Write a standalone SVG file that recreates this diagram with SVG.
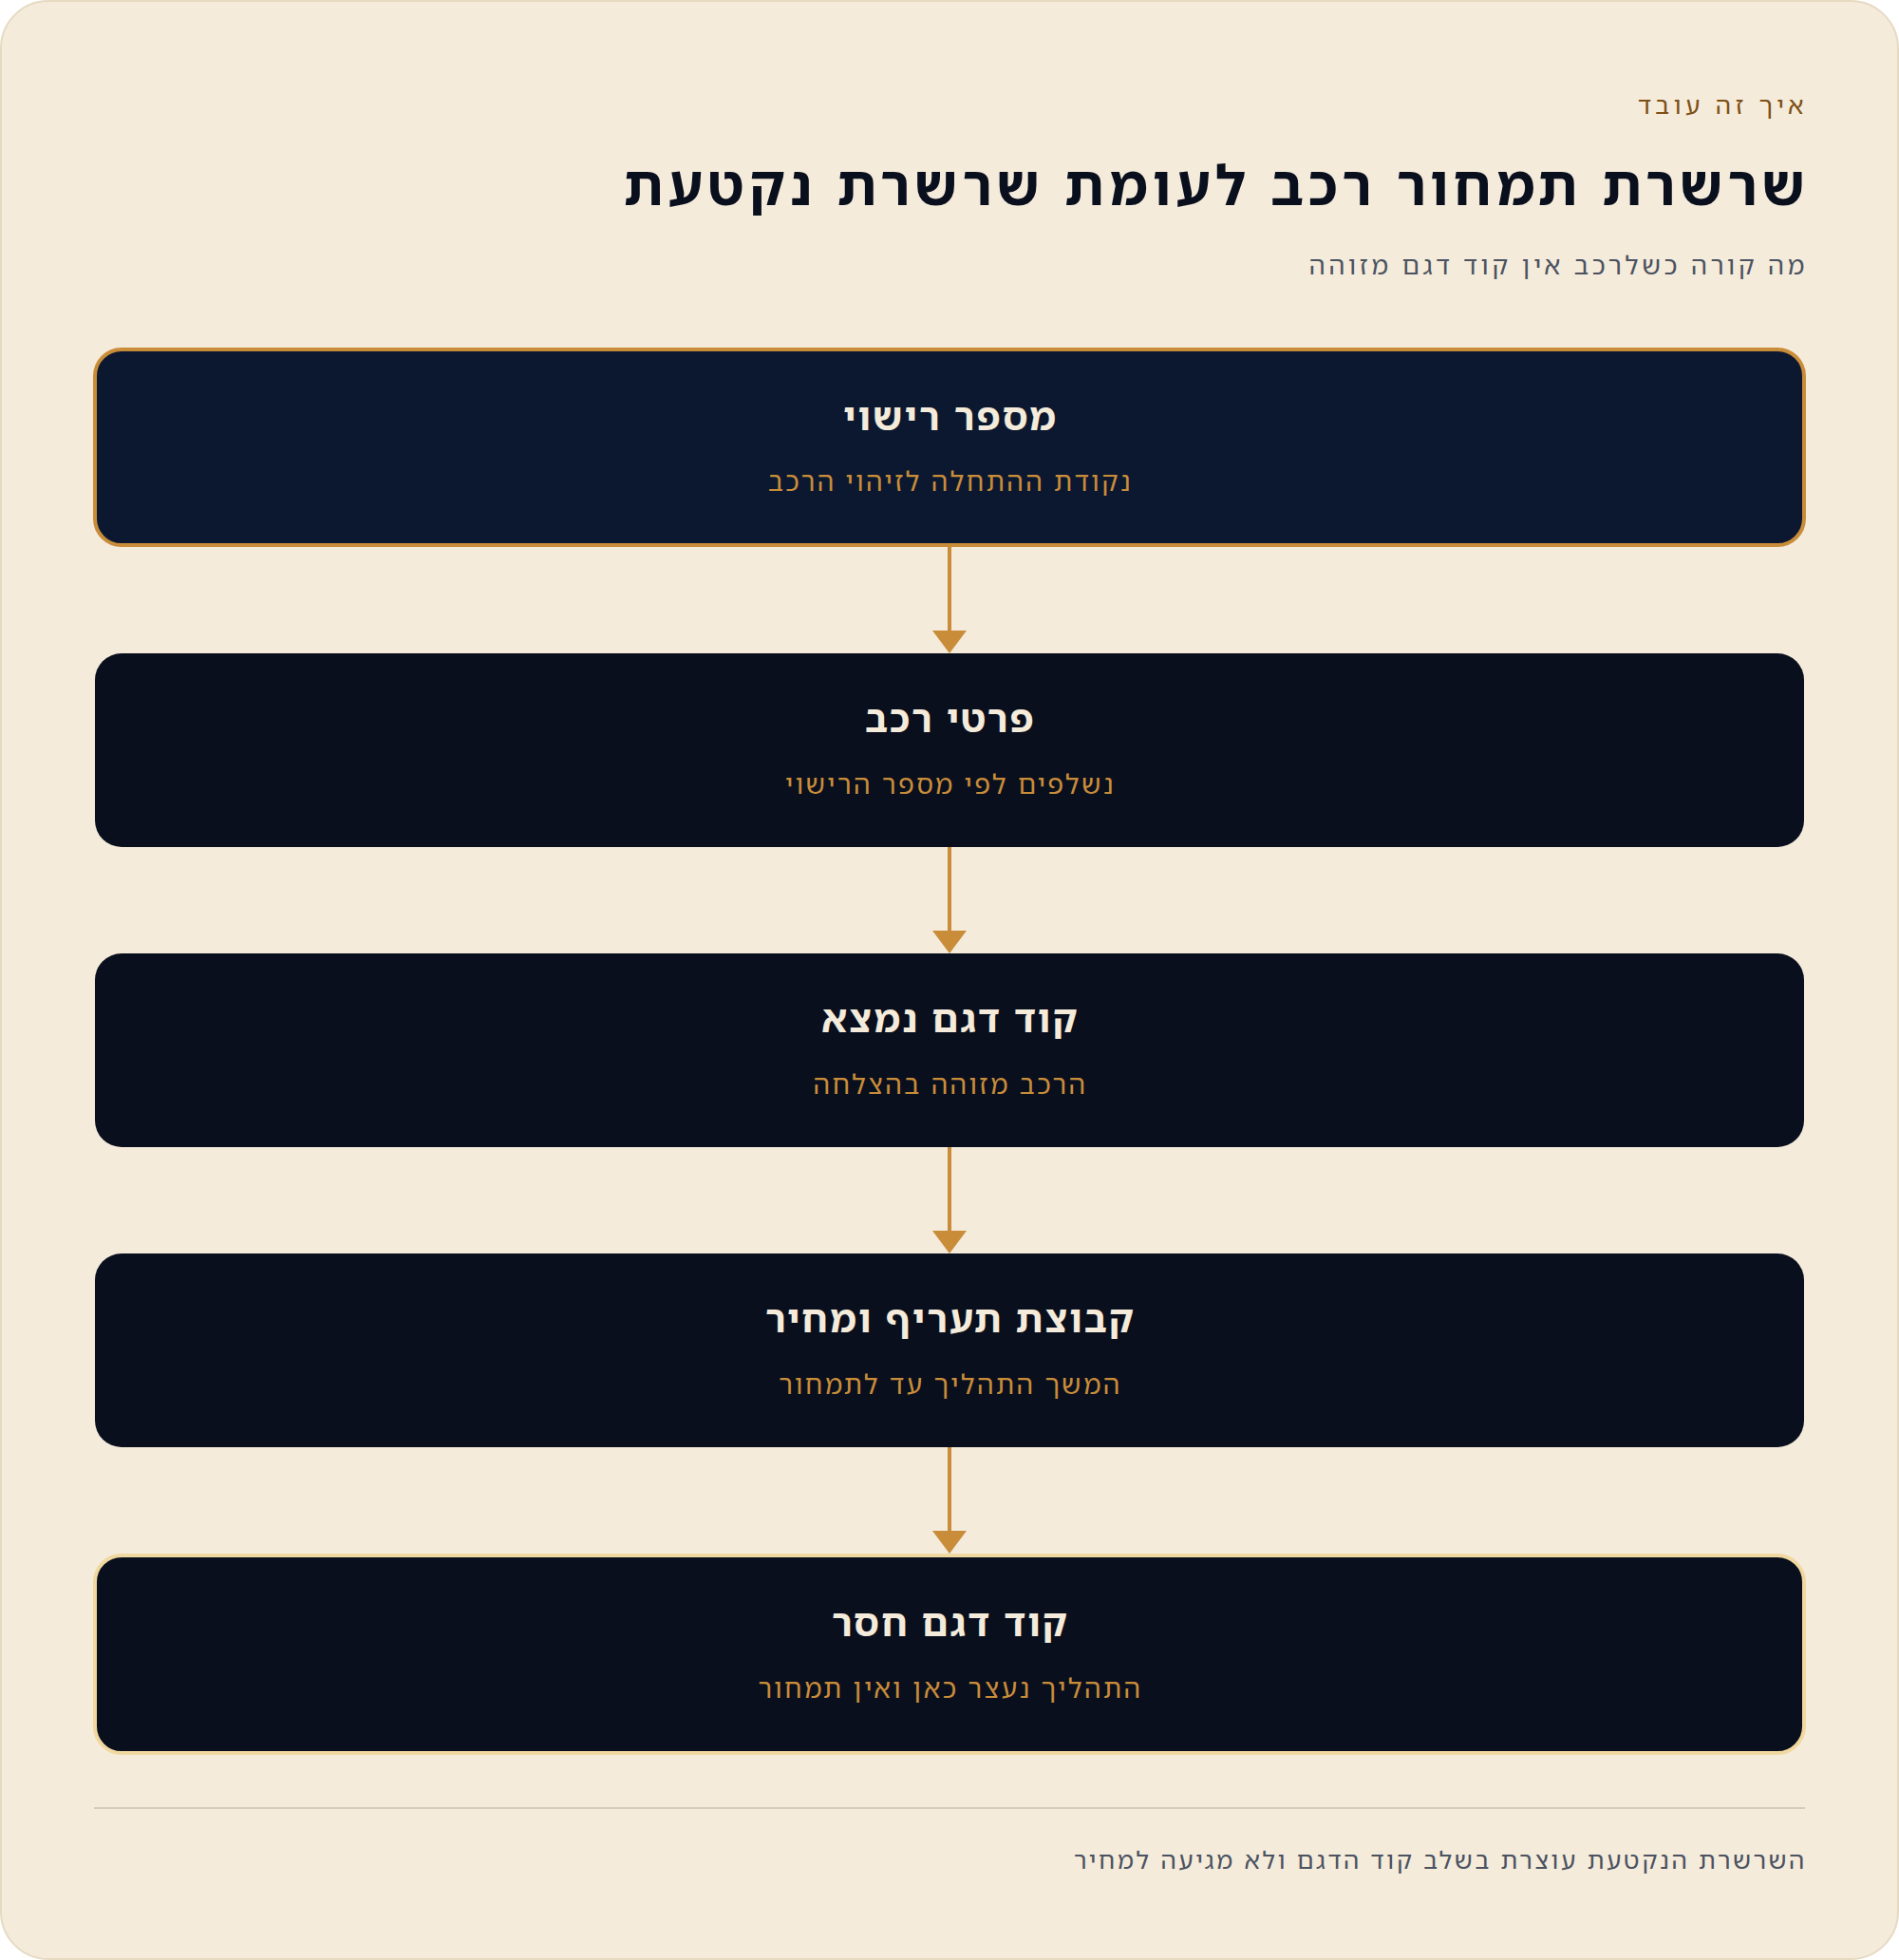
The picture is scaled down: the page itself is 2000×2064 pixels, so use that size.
<svg xmlns="http://www.w3.org/2000/svg" width="2000" height="2064" viewBox="0 0 2000 2064">
  <defs>
    <style>
      .txt { font-family: "Noto Sans Hebrew", "Noto Sans", "DejaVu Sans", sans-serif; }
      .eyebrow { font-size: 26px; fill: #7e4f14; letter-spacing: 4.6px; }
      .title { font-size: 58px; font-weight: 700; fill: #0a0f1e; letter-spacing: 5.15px; }
      .subtitle { font-size: 27px; fill: #4b5260; letter-spacing: 3.6px; }
      .footer { font-size: 26px; fill: #4b5260; letter-spacing: 2.6px; }
      .node-rect { fill: #0a0f1e; }
      .node-title { font-size: 40px; font-weight: 700; fill: #f4ebdb; letter-spacing: 2.1px; }
      .node-sub { font-size: 28px; fill: #c98d3a; letter-spacing: 2.4px; }
      .conn { stroke: #c98d3a; stroke-width: 4; fill: none; }
      .head { fill: #c98d3a; }
    </style>
  </defs>

  <rect id="card" x="1" y="1" width="1998" height="2062" rx="50" ry="50" fill="#f4ebdb" stroke="#e6dac2" stroke-width="2"/>

  <g id="header" class="txt">
    <text class="eyebrow" x="1904" y="120" text-anchor="end">איך זה עובד</text>
    <text class="title" x="1906" y="216" text-anchor="end">שרשרת תמחור רכב לעומת שרשרת נקטעת</text>
    <text class="subtitle" x="1904" y="289" text-anchor="end">מה קורה כשלרכב אין קוד דגם מזוהה</text>
  </g>

  <g id="connectors">
    <line class="conn" x1="1000" y1="576" x2="1000" y2="670"/>
    <polygon class="head" points="982,664 1018,664 1000,688"/>
    <line class="conn" x1="1000" y1="892" x2="1000" y2="986"/>
    <polygon class="head" points="982,980 1018,980 1000,1004"/>
    <line class="conn" x1="1000" y1="1208" x2="1000" y2="1302"/>
    <polygon class="head" points="982,1296 1018,1296 1000,1320"/>
    <line class="conn" x1="1000" y1="1524" x2="1000" y2="1618"/>
    <polygon class="head" points="982,1612 1018,1612 1000,1636"/>
  </g>

  <g id="node-1" class="txt">
    <rect x="100" y="368" width="1800" height="206" rx="28" ry="28" fill="#0c1830" stroke="#c98d3a" stroke-width="4"/>
    <text class="node-title" x="1001" y="453" text-anchor="middle">מספר רישוי</text>
    <text class="node-sub" x="1001" y="517" text-anchor="middle">נקודת ההתחלה לזיהוי הרכב</text>
  </g>

  <g id="node-2" class="txt">
    <rect class="node-rect" x="100" y="688" width="1800" height="204" rx="28" ry="28"/>
    <text class="node-title" x="1001" y="771" text-anchor="middle">פרטי רכב</text>
    <text class="node-sub" x="1001" y="836" text-anchor="middle">נשלפים לפי מספר הרישוי</text>
  </g>

  <g id="node-3" class="txt">
    <rect class="node-rect" x="100" y="1004" width="1800" height="204" rx="28" ry="28"/>
    <text class="node-title" x="1001" y="1087" text-anchor="middle">קוד דגם נמצא</text>
    <text class="node-sub" x="1001" y="1152" text-anchor="middle">הרכב מזוהה בהצלחה</text>
  </g>

  <g id="node-4" class="txt">
    <rect class="node-rect" x="100" y="1320" width="1800" height="204" rx="28" ry="28"/>
    <text class="node-title" x="1001" y="1403" text-anchor="middle">קבוצת תעריף ומחיר</text>
    <text class="node-sub" x="1001" y="1468" text-anchor="middle">המשך התהליך עד לתמחור</text>
  </g>

  <g id="node-5" class="txt">
    <rect class="node-rect" x="100" y="1638" width="1800" height="208" rx="28" ry="28" stroke="#f0d8a0" stroke-width="4"/>
    <text class="node-title" x="1001" y="1723" text-anchor="middle">קוד דגם חסר</text>
    <text class="node-sub" x="1001" y="1788" text-anchor="middle">התהליך נעצר כאן ואין תמחור</text>
  </g>

  <g id="footer" class="txt">
    <line x1="99" y1="1904" x2="1901" y2="1904" stroke="#d5ccbd" stroke-width="2"/>
    <text class="footer" x="1903" y="1968" text-anchor="end">השרשרת הנקטעת עוצרת בשלב קוד הדגם ולא מגיעה למחיר</text>
  </g>
</svg>
